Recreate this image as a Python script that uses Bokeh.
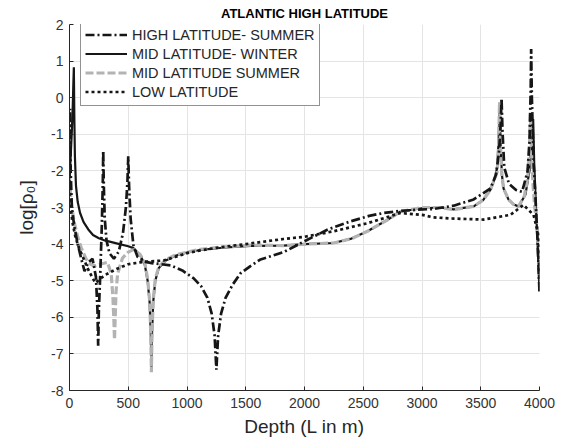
from bokeh.plotting import figure
from bokeh.models import Range1d, FixedTicker, Legend, LegendItem, ColumnDataSource
from bokeh.embed import file_html
from bokeh.resources import INLINE

# ---------------- data ----------------
x_ticks = [0, 500, 1000, 1500, 2000, 2500, 3000, 3500, 4000]
y_ticks = [-8, -7, -6, -5, -4, -3, -2, -1, 0, 1, 2]

title_text = "ATLANTIC HIGH LATITUDE"
x_label = "Depth (L in m)"
y_label = "log[\u03c1\u2080]"
series_names = ["HIGH LATITUDE- SUMMER", "MID LATITUDE- WINTER",
                "MID LATITUDE SUMMER", "LOW LATITUDE"]

hls_x = [0, 5, 10, 20, 40, 70, 100, 128, 160, 196, 225, 238, 244, 250, 262, 275, 283, 287,
         292, 300, 315, 340, 378, 420, 455, 480, 493, 500, 507, 520, 545, 580, 630, 700,
         860, 960, 1055, 1120, 1174, 1210, 1235, 1250, 1265, 1290, 1328, 1390, 1455, 1540,
         1626, 1822, 2025, 2200, 2391, 2550, 2673, 2800, 2961, 3100, 3270, 3440, 3583,
         3630, 3655, 3670, 3677, 3685, 3700, 3740, 3800, 3852, 3898, 3915, 3925, 3929,
         3935, 3950, 3966, 3985, 4000]
hls_y = [-2.5, -0.3, -2.0, -3.0, -3.5, -4.0, -4.4, -4.74, -4.5, -4.4, -4.9, -5.8, -6.78,
         -5.8, -4.8, -3.5, -2.4, -1.45, -2.4, -3.3, -3.9, -4.25, -4.4, -4.2, -3.7, -3.0,
         -2.3, -1.6, -2.4, -3.3, -4.06, -4.35, -4.47, -4.52, -4.58, -4.72, -4.93, -5.15,
         -5.47, -5.9, -6.5, -7.43, -6.5, -5.9, -5.47, -5.1, -4.8, -4.6, -4.42, -4.22,
         -3.88, -3.6, -3.38, -3.23, -3.15, -3.1, -3.06, -3.04, -2.95, -2.78, -2.48, -2.1,
         -1.5, -0.7, -0.03, -0.9, -1.9, -2.35, -2.52, -2.57, -2.02, -1.2, 0.2, 1.33, 0.0,
         -1.8, -2.75, -4.0, -5.33]

mlw_x = [0, 10, 20, 28, 33, 37, 41, 46, 55, 70, 90, 120, 160, 200, 250, 300, 400, 500,
         545, 600, 640, 665, 682, 692, 697, 702, 712, 730, 760, 820, 900, 1000, 1115, 1300,
         1540, 1822, 2000, 2247, 2400, 2536, 2700, 2817, 3000, 3157, 3268, 3440, 3520,
         3583, 3620, 3640, 3652, 3660, 3668, 3680, 3694, 3736, 3780, 3822, 3880, 3915,
         3932, 3946, 3955, 3974, 3990, 4000]
mlw_y = [-2.3, -1.6, -0.9, -0.2, 0.4, 0.83, -0.5, -1.6, -2.4, -2.85, -3.15, -3.4, -3.6,
         -3.75, -3.84, -3.9, -3.98, -4.06, -4.11, -4.3, -4.55, -5.0, -5.6, -6.5, -7.4,
         -6.5, -5.6, -5.0, -4.65, -4.45, -4.32, -4.23, -4.16, -4.1, -4.05, -4.04, -4.0,
         -3.97, -3.85, -3.65, -3.35, -3.11, -3.02, -3.0, -3.05, -2.97, -2.8, -2.51, -2.2,
         -1.9, -1.2, -0.15, -1.2, -2.1, -2.48, -2.78, -2.92, -2.97, -2.65, -2.0, -1.3,
         -0.58, -1.8, -3.3, -4.5, -5.3]

mls_x = [0, 8, 20, 40, 70, 100, 140, 180, 215, 260, 323, 355, 370, 378, 383, 388, 396,
         410, 451, 500, 545, 600, 640, 665, 682, 692, 697, 702, 712, 730, 760, 820, 900,
         1000, 1115, 1300, 1540, 1822, 2000, 2247, 2400, 2536, 2700, 2817, 3000, 3157,
         3268, 3440, 3520, 3583, 3620, 3640, 3652, 3660, 3668, 3680, 3694, 3736, 3780,
         3822, 3870, 3900, 3913, 3923, 3932, 3945, 3960, 3983, 4000]
mls_y = [-2.2, -2.6, -3.0, -3.4, -3.8, -4.1, -4.4, -4.55, -4.6, -4.55, -4.5, -4.8, -5.5,
         -6.1, -6.61, -6.1, -5.3, -4.8, -4.38, -4.22, -4.15, -4.28, -4.5, -4.95, -5.55,
         -6.5, -7.5, -6.5, -5.55, -4.95, -4.62, -4.42, -4.3, -4.22, -4.14, -4.08, -4.03,
         -4.04, -4.0, -3.97, -3.85, -3.65, -3.35, -3.11, -3.0, -3.0, -3.06, -2.97, -2.8,
         -2.51, -2.2, -2.02, -1.3, -0.12, -1.3, -2.1, -2.48, -2.78, -2.92, -2.97, -2.7,
         -2.2, -1.5, -0.44, -1.5, -2.4, -3.0, -3.65, -5.0]

low_x = [0, 10, 25, 50, 80, 120, 160, 200, 221, 250, 300, 400, 500, 600, 700, 800, 900,
         1000, 1115, 1300, 1500, 1822, 2000, 2247, 2536, 2817, 3000, 3098, 3242, 3523,
         3753, 3863, 3949, 3991, 4000]
low_y = [-2.6, -3.0, -3.4, -3.8, -4.1, -4.4, -4.7, -4.95, -5.06, -4.98, -4.85, -4.68,
         -4.55, -4.5, -4.47, -4.45, -4.35, -4.25, -4.17, -4.08, -4.0, -3.86, -3.8, -3.65,
         -3.43, -3.15, -3.2, -3.27, -3.3, -3.33, -3.2, -2.93, -3.2, -3.74, -5.0]

# ---------------- figure ----------------
FL, FT, FW, FH = 69, 22, 470, 368  # frame left/top/width/height in canvas px

p = figure(width=569, height=447, output_backend="svg", toolbar_location=None,
           title=title_text,
           x_range=Range1d(0, 4000), y_range=Range1d(-8, 2),
           min_border_left=FL, min_border_right=569 - FL - FW,
           min_border_top=FT, min_border_bottom=447 - FT - FH)
p.title.align = "center"
p.title.text_font = "Liberation Sans"
p.title.text_font_size = "13px"
p.title.text_font_style = "bold"
p.title.text_color = "#000000"
p.title.standoff = 7
p.outline_line_color = None
p.background_fill_color = "white"
p.border_fill_color = "white"

p.xaxis.ticker = FixedTicker(ticks=x_ticks)
p.yaxis.ticker = FixedTicker(ticks=y_ticks)
p.yaxis.major_label_overrides = {t: str(t) for t in y_ticks}
for ax in (p.xaxis[0], p.yaxis[0]):
    ax.axis_line_color = "#262626"
    ax.axis_line_width = 1
    ax.major_tick_line_color = "#262626"
    ax.major_tick_in = 4
    ax.major_tick_out = 0
    ax.minor_tick_line_color = None
    ax.major_label_text_font = "Liberation Sans"
    ax.major_label_text_font_size = "14px"
    ax.major_label_text_color = "#333333"
    ax.axis_label_text_font = "Liberation Sans"
    ax.axis_label_text_font_style = "normal"
    ax.axis_label_text_color = "#262626"
    ax.axis_label_text_font_size = "19px"
p.xaxis.major_label_standoff = 7
p.yaxis.major_label_standoff = 6
p.xaxis.axis_label = x_label
p.yaxis.axis_label = y_label
p.xaxis.axis_label_standoff = 5
p.yaxis.axis_label_standoff = 11
p.grid.grid_line_color = "#e4e4e4"
p.grid.grid_line_width = 1

src_hls = ColumnDataSource(dict(x=hls_x, y=hls_y))
src_mlw = ColumnDataSource(dict(x=mlw_x, y=mlw_y))
src_mls = ColumnDataSource(dict(x=mls_x, y=mls_y))
src_low = ColumnDataSource(dict(x=low_x, y=low_y))

r_mlw = p.line("x", "y", source=src_mlw, line_color="#161616", line_width=2.2)
r_mls = p.line("x", "y", source=src_mls, line_color="#b3b3b3", line_width=3.2,
               line_dash="8 3")
r_hls = p.line("x", "y", source=src_hls, line_color="#161616", line_width=2.7,
               line_dash="9 3 2 3")
r_low = p.line("x", "y", source=src_low, line_color="#161616", line_width=2.7,
               line_dash="3 3")

legend = Legend(items=[LegendItem(label=series_names[0], renderers=[r_hls]),
                       LegendItem(label=series_names[1], renderers=[r_mlw]),
                       LegendItem(label=series_names[2], renderers=[r_mls]),
                       LegendItem(label=series_names[3], renderers=[r_low])],
                location=(11, FH - 84), margin=0, padding=4, spacing=0,
                glyph_width=42, glyph_height=19, label_height=19, label_standoff=5,
                label_text_font="Liberation Sans", label_text_font_size="14.5px",
                label_text_color="#262626",
                border_line_color="#262626", border_line_width=1,
                background_fill_color="white", background_fill_alpha=1.0)
p.add_layout(legend)

open("out.html", "w").write(file_html(p, INLINE))
